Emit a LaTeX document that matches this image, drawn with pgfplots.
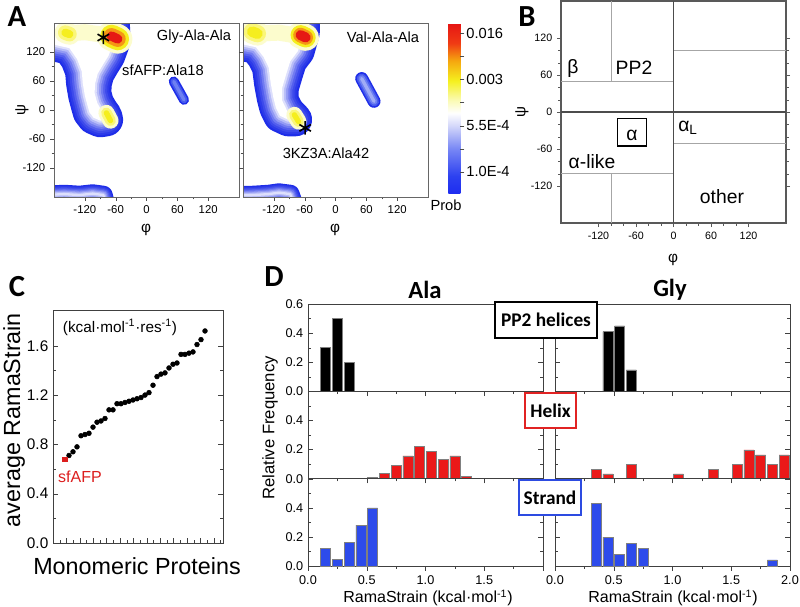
\documentclass[border=0pt]{standalone}
\usepackage{pgfplots}
\pgfplotsset{compat=1.18}
\usepackage{pgfplotstable}
\usepackage{fontspec}
\setmainfont{Liberation Sans}
\newfontfamily\calb{Carlito}

\definecolor{hb1}{RGB}{30,45,232}
\definecolor{hb3}{RGB}{70,90,238}
\definecolor{hb4}{RGB}{110,128,242}
\definecolor{hb5}{RGB}{160,172,246}
\definecolor{ypale}{RGB}{252,252,205}
\definecolor{ymid}{RGB}{250,246,120}
\definecolor{yel}{RGB}{245,238,30}
\definecolor{orng}{RGB}{245,150,20}
\definecolor{rred}{RGB}{230,25,20}
\definecolor{barred}{RGB}{235,25,25}
\definecolor{barblue}{RGB}{45,75,235}
\definecolor{sfred}{RGB}{220,30,30}
\definecolor{boxred}{RGB}{225,35,35}
\definecolor{boxblue}{RGB}{45,75,225}

\newcommand\fs[1]{\fontsize{#1}{#1}\selectfont}

% blob: thick strokes fading inwards, table #1, half band width #2
\newcommand\blueblob[2]{%
  \addplot[draw=hb1, line width=2*#2, line join=round, line cap=round] table {#1};
  \addplot[draw=hb1!94!white, line width=1.75*#2, line join=round, line cap=round] table {#1};
  \addplot[draw=hb1!86!white, line width=1.5*#2, line join=round, line cap=round] table {#1};
  \addplot[draw=hb1!76!white, line width=1.25*#2, line join=round, line cap=round] table {#1};
  \addplot[draw=hb1!63!white, line width=1.0*#2, line join=round, line cap=round] table {#1};
  \addplot[draw=hb1!48!white, line width=0.75*#2, line join=round, line cap=round] table {#1};
  \addplot[draw=hb1!32!white, line width=0.5*#2, line join=round, line cap=round] table {#1};
  \addplot[draw=hb1!15!white, line width=0.25*#2, line join=round, line cap=round] table {#1};
}

% ---- Ramachandran density skeletons (phi, psi)
\pgfplotstableread{
phi psi
-200 200
-66 200
-64 160
-66 135
-74 112
-84 95
-95 75
-100 55
-101 35
-96 15
-88 0
-80 -12
-78 -20
-90 -22
-103 -16
-111 -5
-115 10
-120 30
-124 55
-126 80
-135 105
-150 128
-200 140
-200 200
}\mainL

\pgfplotstableread{
phi psi
-200 200
-63 200
-63 160
-73 122
-88 101
-96 74
-104 45
-104 20
-94 -2
-82 -15
-78 -20
-92 -20
-108 -12
-116 5
-121 26
-126 55
-130 88
-140 110
-155 130
-200 140
-200 200
}\mainR

\pgfplotstableread{
phi psi
-200 -192
-200 -176
-160 -174
-130 -176
-105 -173
-84 -176
-80 -192
-200 -192
}\botL

\pgfplotstableread{
phi psi
-200 -192
-200 -177
-160 -176
-130 -174
-110 -171
-88 -174
-82 -192
-200 -192
}\botR

\pgfplotsset{
  rama/.style={scale only axis, width=138.75pt, height=130.5pt, anchor=north west,
    xmin=-180, xmax=180, ymin=-180, ymax=180,
    xtick={-120,-60,0,60,120}, ytick={-120,-60,0,60,120},
    xticklabels={-120,-60,0,60,120},
    minor tick num=1, tick align=outside, xtick pos=left, ytick pos=left,
    axis on top, tick label style={font=\fs{8.5}},
    axis line style={black!60, line width=0.7pt}, tick style={black!70},
    major tick length=3pt, minor tick length=1.8pt},
  dbase/.style={scale only axis, width=176.25pt, height=65.5pt, anchor=north west,
    xmin=0, xmax=2, ymin=0, ymax=0.6,
    xtick={0,0.5,1,1.5,2}, minor x tick num=1,
    ytick={0,0.2,0.4,0.6}, minor y tick num=1,
    tick align=inside, xtick pos=left, ytick pos=both, yticklabel pos=left,
    xticklabels={}, tick label style={font=\fs{9.5}},
    axis line style={black!75}, tick style={black!75},
    major tick length=3.5pt, minor tick length=2pt,
    ybar, bar width=0.085},
}

\begin{document}
\begin{tikzpicture}
\useasboundingbox (0,0) rectangle (600pt,-455.25pt);

% ================= A left: Gly-Ala-Ala
\begin{axis}[rama, at={(40.5pt,-17.25pt)}, yticklabels={-120,-60,0,60,120}]
\blueblob{\mainL}{12.5pt}
\addplot[fill=white, draw=none] table {\mainL};
\blueblob{\botL}{7pt}
\addplot[draw=hb1, line width=7.5pt, line cap=round] coordinates {(53,59)(73,21)};
\addplot[draw=hb3, line width=5pt, line cap=round] coordinates {(53,59)(73,21)};
\addplot[draw=hb4, line width=2.5pt, line cap=round] coordinates {(53,59)(73,21)};
\addplot[draw=hb1, line width=5pt, line cap=round] coordinates {(186,188)(186,172)};
\addplot[draw=ypale, line width=12pt, line cap=round, line join=round] coordinates {(-158,158)(-120,161)(-80,155)};
\addplot[draw=ypale, line width=16pt, line cap=round] coordinates {(-158,160)(-150,157)};
\addplot[draw=ymid, line width=11pt, line cap=round] coordinates {(-158,160)(-150,157)};
\addplot[draw=yel, line width=6pt, line cap=round] coordinates {(-158,160)(-150,157)};
\addplot[draw=ypale, line width=22pt, line cap=round] coordinates {(-68,153)(-56,147)};
\addplot[draw=yel, line width=17pt, line cap=round] coordinates {(-68,153)(-56,147)};
\addplot[draw=orng, line width=12pt, line cap=round] coordinates {(-68,153)(-56,147)};
\addplot[draw=rred, line width=7pt, line cap=round] coordinates {(-68,153)(-56,147)};
\addplot[draw=ypale, line width=12pt, line cap=round] coordinates {(-78,-6)(-70,-22)};
\addplot[draw=ymid, line width=8pt, line cap=round] coordinates {(-78,-6)(-70,-22)};
\addplot[draw=yel, line width=4pt, line cap=round] coordinates {(-78,-6)(-70,-22)};
\addplot[only marks, mark=asterisk, mark size=5pt, mark options={line width=1.2pt}, black] coordinates {(-84,150)};
\end{axis}

% ================= A right: Val-Ala-Ala + colorbar
\begin{axis}[rama, at={(182.25pt,-17.25pt)}, yticklabels={},
  colormap={prob}{rgb255(0pt)=(30,45,240); rgb255(10pt)=(45,65,240); rgb255(26pt)=(120,135,245);
    rgb255(40pt)=(215,218,250); rgb255(47pt)=(255,255,255); rgb255(55pt)=(250,250,175);
    rgb255(66pt)=(245,240,30); rgb255(78pt)=(245,165,15); rgb255(88pt)=(240,60,20); rgb255(100pt)=(230,20,20)},
  colorbar, point meta min=0, point meta max=1,
  colorbar style={at={(parent axis.north east)}, anchor=north west, xshift=6.75pt,
    scale only axis, width=9pt, height=127.5pt, ymin=0, ymax=1,
    ytick={0.124,0.394,0.67,0.94}, yticklabels={1.0E-4,5.5E-4,0.003,0.016},
    minor ytick={0.259,0.532,0.805}, tick align=outside, ytick pos=right, yticklabel pos=right,
    axis line style={draw=none}, tick style={black!70},
    major tick length=3pt, minor tick length=3pt,
    yticklabel style={font=\fs{11}, xshift=-2pt}}]
\blueblob{\mainR}{12.5pt}
\addplot[fill=white, draw=none] table {\mainR};
\blueblob{\botR}{7pt}
\addplot[draw=hb1, line width=9.75pt, line cap=round] coordinates {(51,65)(75,18)};
\addplot[draw=hb3, line width=7.5pt, line cap=round] coordinates {(51,65)(75,18)};
\addplot[draw=hb4, line width=5pt, line cap=round] coordinates {(51,65)(75,18)};
\addplot[draw=hb5, line width=2.5pt, line cap=round] coordinates {(51,65)(75,18)};
\addplot[draw=hb1, line width=5pt, line cap=round] coordinates {(186,188)(186,172)};
\addplot[draw=ypale, line width=12pt, line cap=round, line join=round] coordinates {(-160,158)(-110,160)(-75,154)};
\addplot[draw=ypale, line width=18pt, line cap=round] coordinates {(-162,162)(-152,158)};
\addplot[draw=ymid, line width=13pt, line cap=round] coordinates {(-162,162)(-152,158)};
\addplot[draw=yel, line width=8pt, line cap=round] coordinates {(-162,162)(-152,158)};
\addplot[draw=ypale, line width=20pt, line cap=round] coordinates {(-68,155)(-58,150)};
\addplot[draw=yel, line width=15pt, line cap=round] coordinates {(-68,155)(-58,150)};
\addplot[draw=orng, line width=11pt, line cap=round] coordinates {(-68,155)(-58,150)};
\addplot[draw=rred, line width=7.5pt, line cap=round] coordinates {(-68,155)(-58,150)};
\addplot[draw=ypale, line width=12pt, line cap=round] coordinates {(-80,-10)(-72,-24)};
\addplot[draw=ymid, line width=8pt, line cap=round] coordinates {(-80,-10)(-72,-24)};
\addplot[draw=yel, line width=4pt, line cap=round] coordinates {(-80,-10)(-72,-24)};
\addplot[only marks, mark=asterisk, mark size=5pt, mark options={line width=1.2pt}, black] coordinates {(-59,-37)};
\end{axis}

% ================= B: region definitions
\begin{axis}[scale only axis, width=168.75pt, height=166.5pt, at={(420.75pt,-0.75pt)}, anchor=north west,
  xmin=-180, xmax=180, ymin=-180, ymax=180,
  xtick={-120,-60,0,60,120}, ytick={-120,-60,0,60,120},
  xticklabels={-120,-60,0,60,120}, yticklabels={-120,-60,0,60,120},
  minor tick num=2, tick align=outside, xtick pos=left, ytick pos=both, yticklabel pos=left,
  tick label style={font=\fs{8}}, axis line style={black!65, line width=0.8pt}, tick style={black!65},
  major tick length=3pt, minor tick length=2pt]
\addplot[black!35, line width=0.5pt] coordinates {(-180,50)(0,50)};
\addplot[black!35, line width=0.5pt] coordinates {(-100,50)(-100,180)};
\addplot[black!35, line width=0.5pt] coordinates {(0,100)(180,100)};
\addplot[black!35, line width=0.5pt] coordinates {(0,-50)(180,-50)};
\addplot[black!35, line width=0.5pt] coordinates {(-180,-100)(0,-100)};
\addplot[black!35, line width=0.5pt] coordinates {(-100,-180)(-100,-100)};
\addplot[black!70, line width=0.8pt] coordinates {(-180,0)(180,0)};
\addplot[black!70, line width=0.8pt] coordinates {(0,-180)(0,180)};
\addplot[black, line width=0.9pt] coordinates {(-90,-10)(-43,-10)(-43,-55)(-90,-55)(-90,-10)};
\end{axis}

% ================= C: average RamaStrain
\begin{axis}[scale only axis, width=127.5pt, height=174.75pt, at={(39.75pt,-232.5pt)}, anchor=north west,
  xmin=0, xmax=42.5, ymin=0, ymax=1.89,
  ytick={0,0.4,0.8,1.2,1.6}, yticklabels={0.0,0.4,0.8,1.2,1.6}, minor y tick num=1,
  xtick={0,3.35,...,42}, minor x tick num=1, xticklabels={},
  tick align=inside, xtick pos=left, ytick pos=both, yticklabel pos=left,
  tick label style={font=\fs{11.5}}, axis line style={black!75}, tick style={black!75},
  major tick length=3.5pt, minor tick length=2pt]
\addplot[only marks, mark=*, mark size=1.8pt, black] coordinates {
(4,0.71)(5,0.74)(6,0.78)(7,0.87)(8,0.88)(9,0.89)(10,0.94)(11,0.98)(12,0.99)(13,1.01)
(14,1.08)(15,1.08)(16,1.13)(17,1.13)(18,1.14)(19,1.15)(20,1.16)(21,1.17)(22,1.18)(23,1.20)
(24,1.22)(25,1.28)(26,1.35)(27,1.37)(28,1.38)(29,1.42)(30,1.45)(31,1.46)(32,1.53)(33,1.53)
(34,1.54)(35,1.55)(36,1.61)(37,1.65)(38,1.72)};
\addplot[only marks, mark=square*, mark size=1.7pt, sfred] coordinates {(3,0.68)};
\end{axis}

% ================= D: Ala histograms
\begin{axis}[dbase, at={(231pt,-228pt)}, yticklabels={0.0,0.2,0.4,0.6}]
\addplot[fill=black, draw=black!50] coordinates {(0.15,0.30)(0.25,0.50)(0.35,0.20)};
\end{axis}
\begin{axis}[dbase, at={(231pt,-293.5pt)}, yticklabels={0.0,0.2,0.4,{}}]
\addplot[fill=barred, draw=black!50] coordinates {(0.55,0.007)(0.65,0.035)(0.75,0.09)(0.85,0.156)(0.95,0.223)(1.05,0.19)(1.15,0.13)(1.25,0.156)(1.35,0.018)};
\end{axis}
\begin{axis}[dbase, at={(231pt,-359pt)}, yticklabels={0.0,0.2,0.4,{}}, xticklabels={0.0,0.5,1.0,1.5,{}}]
\addplot[fill=barblue, draw=black!50] coordinates {(0.15,0.12)(0.25,0.044)(0.35,0.16)(0.45,0.28)(0.55,0.40)};
\end{axis}

% ================= D: Gly histograms
\begin{axis}[dbase, at={(416.25pt,-228pt)}, yticklabels={}]
\addplot[fill=black, draw=black!50] coordinates {(0.45,0.41)(0.55,0.45)(0.65,0.147)};
\end{axis}
\begin{axis}[dbase, at={(416.25pt,-293.5pt)}, yticklabels={}]
\addplot[fill=barred, draw=black!50] coordinates {(0.35,0.065)(0.45,0.033)(0.65,0.098)(1.05,0.033)(1.35,0.065)(1.55,0.098)(1.65,0.198)(1.75,0.163)(1.85,0.098)(1.95,0.163)};
\end{axis}
\begin{axis}[dbase, at={(416.25pt,-359pt)}, yticklabels={}, xticklabels={0.0,0.5,1.0,1.5,2.0}]
\addplot[fill=barblue, draw=black!50] coordinates {(0.35,0.43)(0.45,0.198)(0.55,0.081)(0.65,0.156)(0.75,0.12)(1.85,0.042)};
\end{axis}

% ================= text
\begin{scope}[x=0.75pt, y=-0.75pt]
\node[font=\calb\bfseries\fs{23}] at (17,17) {A};
\node[font=\calb\bfseries\fs{23}] at (527,17) {B};
\node[font=\calb\bfseries\fs{23}] at (17,287) {C};
\node[font=\calb\bfseries\fs{23}] at (274,277) {D};
% A
\node[font=\fs{11}] at (194,37) {Gly-Ala-Ala};
\node[font=\fs{11}] at (163,70) {sfAFP:Ala18};
\node[font=\fs{11}] at (383,37) {Val-Ala-Ala};
\node[font=\fs{11}] at (326,153) {3KZ3A:Ala42};
\node[font=\fs{11.5}] at (146,230) {φ};
\node[font=\fs{11.5}] at (335,230) {φ};
\node[font=\fs{11.5}, rotate=90] at (22,110) {ψ};
\node[font=\fs{11}] at (446,205) {Prob};
% B
\node[font=\fs{14.5}] at (573,68) {β};
\node[font=\fs{14.5}] at (634,68) {PP2};
\node[font=\fs{14.5}] at (632,135) {α};
\node[font=\fs{14.5}] at (688,128) {α\textsubscript{L}};
\node[font=\fs{14.5}] at (592,162) {α-like};
\node[font=\fs{14.5}] at (722,197) {other};
\node[font=\fs{11.5}] at (673,260) {φ};
\node[font=\fs{11.5}, rotate=90] at (522,112) {ψ};
% C
\node[font=\fs{17.5}, rotate=90] at (14,420) {average RamaStrain};
\node[font=\fs{17.5}] at (137,566) {Monomeric Proteins};
\node[font=\fs{11.5}] at (120,327) {(kcal·mol\textsuperscript{-1}·res\textsuperscript{-1})};
\node[font=\fs{12}, text=sfred] at (80,477) {sfAFP};
% D
\node[font=\calb\bfseries\fs{18.5}] at (425,290) {Ala};
\node[font=\calb\bfseries\fs{18.5}] at (670,290) {Gly};
\node[font=\fs{12.5}, rotate=90] at (270,428) {Relative Frequency};
\node[font=\fs{12}] at (428,598) {RamaStrain (kcal·mol\textsuperscript{-1})};
\node[font=\fs{12}] at (673,598) {RamaStrain (kcal·mol\textsuperscript{-1})};
\node[draw=black, line width=2pt, fill=white, minimum width=76.5pt, minimum height=27pt, inner sep=0pt,
  font=\calb\bfseries\fs{14.5}] at (546,320) {PP2 helices};
\node[draw=boxred, line width=2pt, fill=white, minimum width=38.25pt, minimum height=26.25pt, inner sep=0pt,
  font=\calb\bfseries\fs{14.5}] at (550.5,410.5) {Helix};
\node[draw=boxblue, line width=2pt, fill=white, minimum width=46.5pt, minimum height=26.25pt, inner sep=0pt,
  font=\calb\bfseries\fs{14.5}] at (550,497.5) {Strand};
\end{scope}
\end{tikzpicture}
\end{document}
